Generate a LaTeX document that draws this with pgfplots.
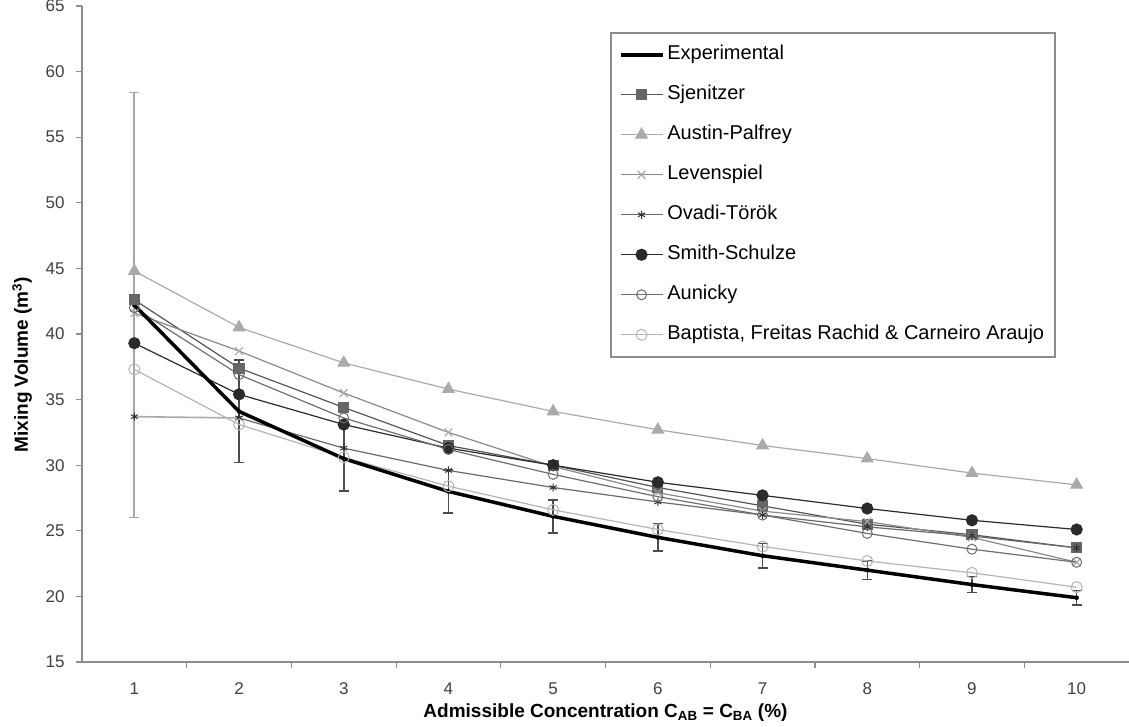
\documentclass[border=0pt]{standalone}
\usepackage{fontspec}
\setmainfont{Liberation Sans}
\usepackage{pgfplots}
\usepackage{pgfplotstable}
\pgfplotsset{compat=1.18}
\usetikzlibrary{plotmarks}

\pgfplotstableread{
x exp err austin sjen leven ovadi smith aunicky baptista
1 42.2 16.2 44.8 42.6 41.6 33.7 39.3 42.0 37.3
2 34.1 3.9 40.5 37.4 38.7 33.6 35.4 36.9 33.1
3 30.5 2.45 37.8 34.4 35.5 31.3 33.1 33.6 30.6
4 28.0 1.65 35.8 31.5 32.5 29.6 31.3 31.2 28.4
5 26.1 1.25 34.1 30.0 29.9 28.3 30.0 29.3 26.6
6 24.5 1.05 32.7 28.3 27.9 27.2 28.7 27.6 25.1
7 23.1 0.95 31.5 26.9 26.5 26.2 27.7 26.2 23.8
8 22.0 0.7 30.5 25.5 25.7 25.3 26.7 24.8 22.7
9 20.9 0.6 29.4 24.7 24.5 24.6 25.8 23.6 21.8
10 19.9 0.55 28.5 23.7 22.6 23.7 25.1 22.6 20.7
}\data

\definecolor{cSjen}{HTML}{555555}
\definecolor{cSjenM}{HTML}{666666}
\definecolor{cAustin}{HTML}{AAAAAA}
\definecolor{cLeven}{HTML}{8A8A8A}
\definecolor{cLevenM}{HTML}{A8A8A8}
\definecolor{cOvadi}{HTML}{6A6A6A}
\definecolor{cOvadiM}{HTML}{303030}
\definecolor{cSmith}{HTML}{2A2A2A}
\definecolor{cAun}{HTML}{6E6E6E}
\definecolor{cBap}{HTML}{B4B4B4}
\definecolor{cAxis}{HTML}{8C8C8C}

\begin{document}
\begin{tikzpicture}
\begin{axis}[
  scale only axis, width=1047pt, height=656pt,
  xmin=0.5, xmax=10.5, ymin=15, ymax=65,
  axis x line*=bottom, axis y line*=left,
  axis line style={draw=cAxis, line width=1.8pt},
  xtick={1,...,10},
  major x tick style={draw=none},
  minor xtick={1.5,2.5,...,9.5},
  ytick={15,20,...,65},
  tick align=outside,
  major tick length=6pt, minor tick length=6pt,
  every tick/.style={cAxis, line width=1.2pt},
  ticklabel style={font=\fontsize{17}{20}\selectfont, text=black!75},
  xticklabel style={yshift=-11pt},
  yticklabel style={xshift=-8pt},
  /pgf/number format/assume math mode=true,
  xlabel={Admissible Concentration C\textsubscript{AB} = C\textsubscript{BA} (\%)},
  ylabel={Mixing Volume (m\textsuperscript{3})},
  label style={font=\bfseries\fontsize{19}{22}\selectfont},
  xlabel style={at={(axis description cs:0.5,-0.0765)}, anchor=center},
  ylabel style={at={(axis description cs:-0.0573,0.453)}, anchor=center},
  legend style={at={(0.5043,0.9604)}, anchor=north west,
    draw=cAxis, line width=1.6pt, fill=white,
    font=\fontsize{20}{24}\selectfont,
    inner xsep=8pt, inner ysep=12pt,
    row sep=20pt,
    nodes={inner xsep=3pt, inner ysep=0pt, text height=15pt, text depth=5pt}},
  legend cell align=left,
  legend image code/.code={\draw[mark repeat=2,mark phase=2,#1] plot coordinates {(0pt,0pt)(21pt,0pt)(42pt,0pt)};},
  clip=false,
]
\coordinate (SW) at (rel axis cs:0,0);
\coordinate (NE) at (rel axis cs:1,1);

% error bars
\addplot[only marks, mark=none, forget plot, restrict x to domain=1:1,
  error bars/.cd, y dir=both, y explicit,
  error bar style={line width=2pt, color=black!35},
  error mark options={rotate=90, mark size=5pt, line width=1.5pt, color=black!35}]
  table[x=x, y=exp, y error=err] {\data};
\addplot[only marks, mark=none, forget plot, restrict x to domain=2:10,
  error bars/.cd, y dir=both, y explicit,
  error bar style={line width=1.5pt, color=black!70},
  error mark options={rotate=90, mark size=5pt, line width=1.5pt, color=black!70}]
  table[x=x, y=exp, y error=err] {\data};

\addlegendimage{black, line width=3.5pt}
\addlegendentry{Experimental}

\addplot[cSjen, line width=1.2pt, mark=square*, mark size=5pt,
  mark options={fill=cSjenM, draw=cSjenM}] table[x=x, y=sjen] {\data};
\addlegendentry{Sjenitzer}

\addplot[cAustin, line width=1.2pt, mark=triangle*, mark size=6.5pt,
  mark options={fill=cAustin, draw=cAustin}] table[x=x, y=austin] {\data};
\addlegendentry{Austin-Palfrey}

\addplot[cLeven, line width=1.2pt, mark=x, mark size=5.5pt,
  mark options={draw=cLevenM, line width=1.2pt}] table[x=x, y=leven] {\data};
\addlegendentry{Levenspiel}

\addplot[cAustin, line width=1.6pt, mark=asterisk, mark size=4pt, forget plot,
  restrict x to domain=1:2,
  mark options={draw=cOvadiM, line width=1pt}] table[x=x, y=ovadi] {\data};
\addplot[cOvadi, line width=1.2pt, mark=asterisk, mark size=4pt,
  restrict x to domain=2:10,
  mark options={draw=cOvadiM, line width=1pt}] table[x=x, y=ovadi] {\data};
\addlegendentry{Ovadi-Török}

\addplot[cSmith, line width=1.2pt, mark=*, mark size=5.5pt,
  mark options={fill=cSmith, draw=cSmith}] table[x=x, y=smith] {\data};
\addlegendentry{Smith-Schulze}

\addplot[cAun, line width=1.2pt, mark=o, mark size=5pt,
  mark options={fill=white, draw=cAun, line width=1pt}] table[x=x, y=aunicky] {\data};
\addlegendentry{Aunicky}

\addplot[cBap, line width=1.2pt, mark=o, mark size=5.5pt,
  mark options={fill=white, draw=cBap, line width=1pt}] table[x=x, y=baptista] {\data};
\addlegendentry{Baptista, Freitas Rachid \& Carneiro Araujo}

\addplot[black, line width=3.5pt, forget plot] table[x=x, y=exp] {\data};
\end{axis}
\pgfresetboundingbox
\path[use as bounding box] ([xshift=-82pt,yshift=-64pt]SW) rectangle ([yshift=6pt]NE);
\end{tikzpicture}
\end{document}
